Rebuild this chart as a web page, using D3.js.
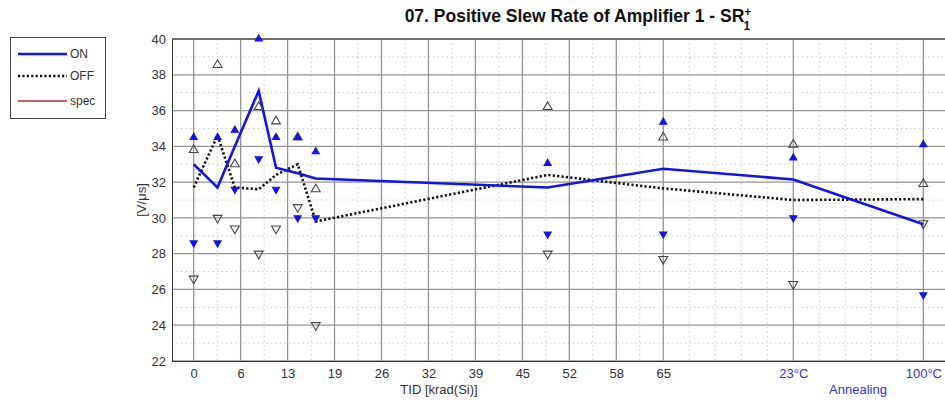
<!DOCTYPE html>
<html>
<head>
<meta charset="utf-8">
<script src="https://cdn.jsdelivr.net/npm/d3@7"></script>
<style>
  body { margin: 0; background: #fff; }
  text { font-family: "Liberation Sans", Arial, sans-serif; }
</style>
</head>
<body>
<div id="chart"></div>
<script>
// TID steps (krad(Si)) followed by the two annealing steps
const tid = [0, 3.3, 5.7, 9, 11.4, 14.4, 16.9, 49, 65, 83, 101];

// average curves
const onAvg  = [33.0, 31.7, 34.0, 37.1, 32.8, 32.5, 32.2, 31.7, 32.75, 32.15, 29.65];
const offAvg = [31.7, 34.6, 31.7, 31.6, 32.4, 33.0, 29.8, 32.4, 31.65, 31.0, 31.05];

// max / min markers
const onMax  = [34.5, 34.5, 34.9, 40.0, 34.5, 34.5, 33.7, 33.05, 35.35, 33.35, 34.1];
const onMin  = [28.6, 28.6, 31.6, 33.3, 31.6, 30.0, 30.0, 29.1, 29.1, 30.0, 25.7];
const offMax = [33.8, 38.55, 33.0, 36.2, 35.4, 34.5, 31.6, 36.2, 34.5, 34.1, 31.9];
const offMin = [26.6, 30.0, 29.4, 28.0, 29.4, 30.6, 24.0, 28.0, 27.7, 26.3, 29.7];

// x ticks
const tidTicks = [0, 6.5, 13, 19.5, 26, 32.5, 39, 45.5, 52, 58.5, 65];
const tidLabels = ["0", "6", "13", "19", "26", "32", "39", "45", "52", "58", "65"];
const annTicks = [83, 101];
const annLabels = ["23°C", "100°C"];

const yTicks = [22, 24, 26, 28, 30, 32, 34, 36, 38, 40];

const legendNames = ["ON", "OFF", "spec"];

const ctx = {
    W: 945,
    H: 401,
    left: 172,
    right: 945,
    top: 39,
    bottom: 361,
    BLUE: "#1414e6",
};

function createViz() {
    const svgEl = d3.select("#chart").append("svg")
                    .attr("width", ctx.W)
                    .attr("height", ctx.H);

    const x = d3.scaleLinear().domain([-3, 104]).range([ctx.left, ctx.right]);
    const y = d3.scaleLinear().domain([22, 40]).range([ctx.bottom, ctx.top]);

    // minor grid: halves on TID part, fifths on annealing part
    const minorX = [];
    tidTicks.slice(1).forEach((t, i) => minorX.push((t + tidTicks[i]) / 2));
    [65].concat(annTicks).slice(1).forEach((t, i, a) => {
        const prev = i === 0 ? 65 : a[i - 1];
        for (let k = 1; k < 5; k++) minorX.push(prev + (t - prev) * k / 5);
    });
    const minorY = d3.range(23, 40, 2);

    const grid = svgEl.append("g").attr("id", "grid");
    grid.selectAll("line.minorX").data(minorX).enter().append("line")
        .attr("x1", d => x(d)).attr("x2", d => x(d))
        .attr("y1", ctx.top).attr("y2", ctx.bottom)
        .attr("stroke", "#cccccc").attr("stroke-dasharray", "1.5,3");
    grid.selectAll("line.minorY").data(minorY).enter().append("line")
        .attr("x1", ctx.left).attr("x2", ctx.right)
        .attr("y1", d => y(d)).attr("y2", d => y(d))
        .attr("stroke", "#cccccc").attr("stroke-dasharray", "1.5,3");
    grid.selectAll("line.majorX").data(tidTicks.concat(annTicks)).enter().append("line")
        .attr("x1", d => x(d)).attr("x2", d => x(d))
        .attr("y1", ctx.top).attr("y2", ctx.bottom)
        .attr("stroke", "#949494").attr("stroke-width", 1.3);
    grid.selectAll("line.majorY").data(yTicks).enter().append("line")
        .attr("x1", ctx.left).attr("x2", ctx.right)
        .attr("y1", d => y(d)).attr("y2", d => y(d))
        .attr("stroke", "#949494").attr("stroke-width", 1.3);

    // axes
    const yAxis = d3.axisLeft(y).tickValues(yTicks).tickSize(0).tickPadding(6);
    svgEl.append("g").attr("transform", `translate(${ctx.left},0)`).call(yAxis)
        .call(g => g.select(".domain").attr("stroke", "#333"))
        .selectAll("text").attr("font-size", 13).attr("fill", "#333");

    const xAxis = d3.axisBottom(x).tickValues(tidTicks)
                    .tickFormat((d, i) => tidLabels[i]).tickSize(0).tickPadding(8);
    svgEl.append("g").attr("transform", `translate(0,${ctx.bottom})`).call(xAxis)
        .call(g => g.select(".domain").attr("stroke", "#333"))
        .selectAll("text").attr("font-size", 13).attr("fill", "#333");

    const annAxis = d3.axisBottom(x).tickValues(annTicks)
                      .tickFormat((d, i) => annLabels[i]).tickSize(0).tickPadding(8);
    svgEl.append("g").attr("transform", `translate(0,${ctx.bottom})`).call(annAxis)
        .call(g => g.select(".domain").remove())
        .selectAll("text").attr("font-size", 13).attr("fill", "#3535c8");

    svgEl.append("line")
        .attr("x1", ctx.left).attr("x2", ctx.right)
        .attr("y1", ctx.top).attr("y2", ctx.top)
        .attr("stroke", "#333");

    // labels
    svgEl.append("text").attr("x", 439).attr("y", 394)
        .attr("text-anchor", "middle").attr("font-size", 13).attr("fill", "#333")
        .text("TID [krad(Si)]");
    svgEl.append("text").attr("x", 858).attr("y", 394)
        .attr("text-anchor", "middle").attr("font-size", 13).attr("fill", "#3535c8")
        .text("Annealing");
    svgEl.append("text")
        .attr("transform", `translate(146,${(ctx.top + ctx.bottom) / 2}) rotate(-90)`)
        .attr("text-anchor", "middle").attr("font-size", 13).attr("fill", "#333")
        .text("[V/μs]");

    const title = svgEl.append("text").attr("x", 578).attr("y", 22)
        .attr("text-anchor", "middle").attr("font-size", 17.5).attr("font-weight", "bold")
        .attr("fill", "#111");
    title.append("tspan").text("07. Positive Slew Rate of Amplifier 1 - SR");
    title.append("tspan").attr("dy", -6).attr("font-size", 12).text("+");
    title.append("tspan").attr("dx", -8).attr("dy", 14).attr("font-size", 12).text("1");

    // curves
    const lineGen = d3.line().x((d, i) => x(tid[i])).y(d => y(d));
    svgEl.append("path").datum(offAvg).attr("d", lineGen)
        .attr("fill", "none").attr("stroke", "#111").attr("stroke-width", 2.6)
        .attr("stroke-dasharray", "2.2,2.2");
    svgEl.append("path").datum(onAvg).attr("d", lineGen)
        .attr("fill", "none").attr("stroke", ctx.BLUE).attr("stroke-width", 2.6);

    // markers
    function markers(vals, down, fill, stroke, size) {
        const tri = d3.symbol().type(d3.symbolTriangle).size(size);
        svgEl.append("g").selectAll("path").data(vals).enter().append("path")
            .attr("d", tri)
            .attr("transform", (d, i) => `translate(${x(tid[i])},${y(d)})` + (down ? " rotate(180)" : ""))
            .attr("fill", fill).attr("stroke", stroke).attr("stroke-width", 1.1);
    }
    markers(offMax, false, "none", "#444", 34);
    markers(offMin, true, "none", "#444", 34);
    markers(onMax, false, ctx.BLUE, ctx.BLUE, 22);
    markers(onMin, true, ctx.BLUE, ctx.BLUE, 22);

    // legend
    const lg = svgEl.append("g").attr("id", "legend");
    lg.append("rect").attr("x", 10.5).attr("y", 37.5).attr("width", 95).attr("height", 81)
        .attr("fill", "#fff").attr("stroke", "#444");
    const lgStyle = [
        { stroke: ctx.BLUE, dash: null, w: 2.6 },
        { stroke: "#111", dash: "2.2,2.2", w: 2.6 },
        { stroke: "#b02a2a", dash: null, w: 1.6 },
    ];
    lg.selectAll("g.item").data(legendNames).enter().append("g")
        .attr("transform", (d, i) => `translate(0,${[54, 76, 101][i]})`)
        .each(function (d, i) {
            const g = d3.select(this);
            g.append("line").attr("x1", 18).attr("x2", 67).attr("y1", 0).attr("y2", 0)
                .attr("stroke", lgStyle[i].stroke).attr("stroke-width", lgStyle[i].w)
                .attr("stroke-dasharray", lgStyle[i].dash);
            g.append("text").attr("x", 70).attr("y", 4).attr("font-size", 12)
                .attr("fill", "#333").text(d);
        });
};

createViz();
</script>
</body>
</html>
